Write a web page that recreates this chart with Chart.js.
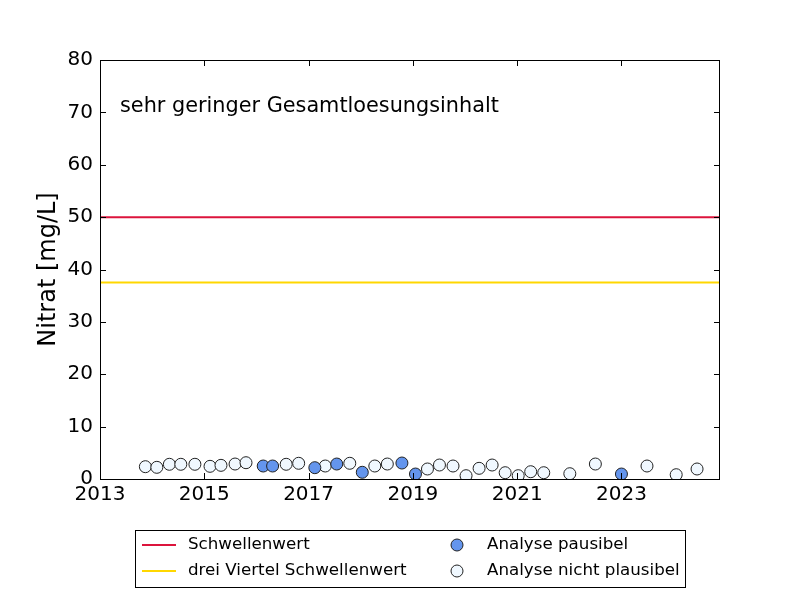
<!DOCTYPE html>
<html>
<head>
<meta charset="utf-8">
<script src="https://cdn.jsdelivr.net/npm/chart.js@4/dist/chart.umd.min.js"></script>
<style>
  body { margin: 0; background: #fff; }
</style>
</head>
<body>
<canvas id="nitrat" width="800" height="600"></canvas>
<script>
// Messwerte Nitrat (Jahr als Dezimalzahl, mg/L)
const plausibelJahr = [2016.13, 2016.31, 2017.12, 2017.54, 2018.03, 2018.79, 2019.05, 2023.00];
const plausibelWert = [2.48, 2.48, 2.16, 2.86, 1.28, 3.05, 0.95, 0.95];

const nichtPlausibelJahr = [2013.87, 2014.09, 2014.33, 2014.55, 2014.82, 2015.11, 2015.32, 2015.59, 2015.80,
    2016.57, 2016.81, 2017.32, 2017.79, 2018.27, 2018.51, 2019.28, 2019.51, 2019.77, 2020.02, 2020.27,
    2020.52, 2020.77, 2021.02, 2021.26, 2021.51, 2022.01, 2022.50, 2023.49, 2024.05, 2024.45];
const nichtPlausibelWert = [2.35, 2.23, 2.81, 2.81, 2.81, 2.42, 2.61, 2.86, 3.11,
    2.81, 3.0, 2.48, 3.0, 2.48, 2.86, 1.91, 2.67, 2.48, 0.63, 2.04,
    2.67, 1.2, 0.63, 1.39, 1.2, 1.01, 2.86, 2.48, 0.82, 1.91];

const schwellenwert = 50;
const dreiViertel = schwellenwert * 0.75;

const xTicks = [2013, 2015, 2017, 2019, 2021, 2023];
const yTicks = [0, 10, 20, 30, 40, 50, 60, 70, 80];
const xMin = 2013, xMax = 2024.89;

const FONT = "'DejaVu Sans', sans-serif";

const punkte = (jahre, werte) => jahre.map((j, i) => ({ x: j, y: werte[i] }));

// Rahmen, Ticks nach innen, Texte und Legende wie bei matplotlib
const deko = {
    id: "deko",
    afterDraw(chart) {
        const { ctx, chartArea: a, scales } = chart;
        ctx.save();
        ctx.strokeStyle = "#000";
        ctx.lineWidth = 1;
        ctx.strokeRect(a.left + 0.5, a.top + 0.5, a.right - a.left - 1, a.bottom - a.top);

        const tl = 6;
        ctx.beginPath();
        scales.x.ticks.forEach((t) => {
            const px = Math.round(scales.x.getPixelForValue(t.value)) + 0.5;
            ctx.moveTo(px, a.bottom); ctx.lineTo(px, a.bottom - tl);
            ctx.moveTo(px, a.top); ctx.lineTo(px, a.top + tl);
        });
        scales.y.ticks.forEach((t) => {
            const py = Math.round(scales.y.getPixelForValue(t.value)) + 0.5;
            ctx.moveTo(a.left, py); ctx.lineTo(a.left + tl, py);
            ctx.moveTo(a.right, py); ctx.lineTo(a.right - tl, py);
        });
        ctx.stroke();

        ctx.fillStyle = "#000";
        ctx.font = "20.8px " + FONT;
        ctx.textAlign = "left";
        ctx.textBaseline = "alphabetic";
        ctx.fillText("sehr geringer Gesamtloesungsinhalt", 120, 112);

        ctx.save();
        ctx.font = "24px " + FONT;
        ctx.translate(55, (a.top + a.bottom) / 2);
        ctx.rotate(-Math.PI / 2);
        ctx.textAlign = "center";
        ctx.fillText("Nitrat [mg/L]", 0, 0);
        ctx.restore();

        // Legende
        ctx.strokeRect(135.5, 530.5, 550, 57);
        ctx.font = "16.7px " + FONT;
        ctx.textBaseline = "middle";
        const zeilen = [545, 571];
        ctx.lineWidth = 2;
        ctx.strokeStyle = "#dc143c";
        ctx.beginPath(); ctx.moveTo(142, zeilen[0]); ctx.lineTo(176, zeilen[0]); ctx.stroke();
        ctx.strokeStyle = "#ffd700";
        ctx.beginPath(); ctx.moveTo(142, zeilen[1]); ctx.lineTo(176, zeilen[1]); ctx.stroke();
        ctx.fillText("Schwellenwert", 188, zeilen[0]);
        ctx.fillText("drei Viertel Schwellenwert", 188, zeilen[1]);
        ctx.lineWidth = 1;
        ctx.strokeStyle = "#222";
        [["#6495ed", zeilen[0]], ["#f0f8ff", zeilen[1]]].forEach(([c, y]) => {
            ctx.beginPath();
            ctx.arc(457, y, 6, 0, Math.PI * 2);
            ctx.fillStyle = c;
            ctx.fill();
            ctx.stroke();
        });
        ctx.fillStyle = "#000";
        ctx.fillText("Analyse pausibel", 487, zeilen[0]);
        ctx.fillText("Analyse nicht plausibel", 487, zeilen[1]);
        ctx.restore();
    },
};

new Chart(document.getElementById("nitrat"), {
    type: "scatter",
    data: {
        datasets: [
            {
                label: "Analyse pausibel",
                data: punkte(plausibelJahr, plausibelWert),
                backgroundColor: "#6495ed",
                borderColor: "#222",
                borderWidth: 1,
                pointRadius: 6,
                clip: 0,
                order: 1,
            },
            {
                label: "Analyse nicht plausibel",
                data: punkte(nichtPlausibelJahr, nichtPlausibelWert),
                backgroundColor: "#f0f8ff",
                borderColor: "#222",
                borderWidth: 1,
                pointRadius: 6,
                clip: 0,
                order: 2,
            },
            {
                type: "line",
                label: "Schwellenwert",
                data: [{ x: xMin, y: schwellenwert }, { x: xMax, y: schwellenwert }],
                borderColor: "#dc143c",
                borderWidth: 2,
                pointRadius: 0,
                order: 3,
            },
            {
                type: "line",
                label: "drei Viertel Schwellenwert",
                data: [{ x: xMin, y: dreiViertel }, { x: xMax, y: dreiViertel }],
                borderColor: "#ffd700",
                borderWidth: 2,
                pointRadius: 0,
                order: 4,
            },
        ],
    },
    options: {
        responsive: false,
        animation: false,
        layout: { padding: { left: 0, top: 60, right: 80, bottom: 0 } },
        plugins: {
            legend: { display: false },
            tooltip: { enabled: false },
        },
        scales: {
            x: {
                type: "linear",
                min: xMin,
                max: xMax,
                grid: { display: false, drawTicks: false },
                border: { display: false },
                afterBuildTicks: (s) => { s.ticks = xTicks.map((v) => ({ value: v })); },
                afterFit: (s) => { s.height = 121; },
                ticks: {
                    color: "#000",
                    font: { family: FONT, size: 20 },
                    padding: 4,
                    maxRotation: 0,
                    callback: (v) => String(v),
                },
            },
            y: {
                min: 0,
                max: 80,
                grid: { display: false, drawTicks: false },
                border: { display: false },
                afterBuildTicks: (s) => { s.ticks = yTicks.map((v) => ({ value: v })); },
                afterFit: (s) => { s.width = 100; },
                ticks: {
                    color: "#000",
                    font: { family: FONT, size: 20 },
                    padding: 7,
                    callback: (v) => String(v),
                },
            },
        },
    },
    plugins: [deko],
});
</script>
</body>
</html>
